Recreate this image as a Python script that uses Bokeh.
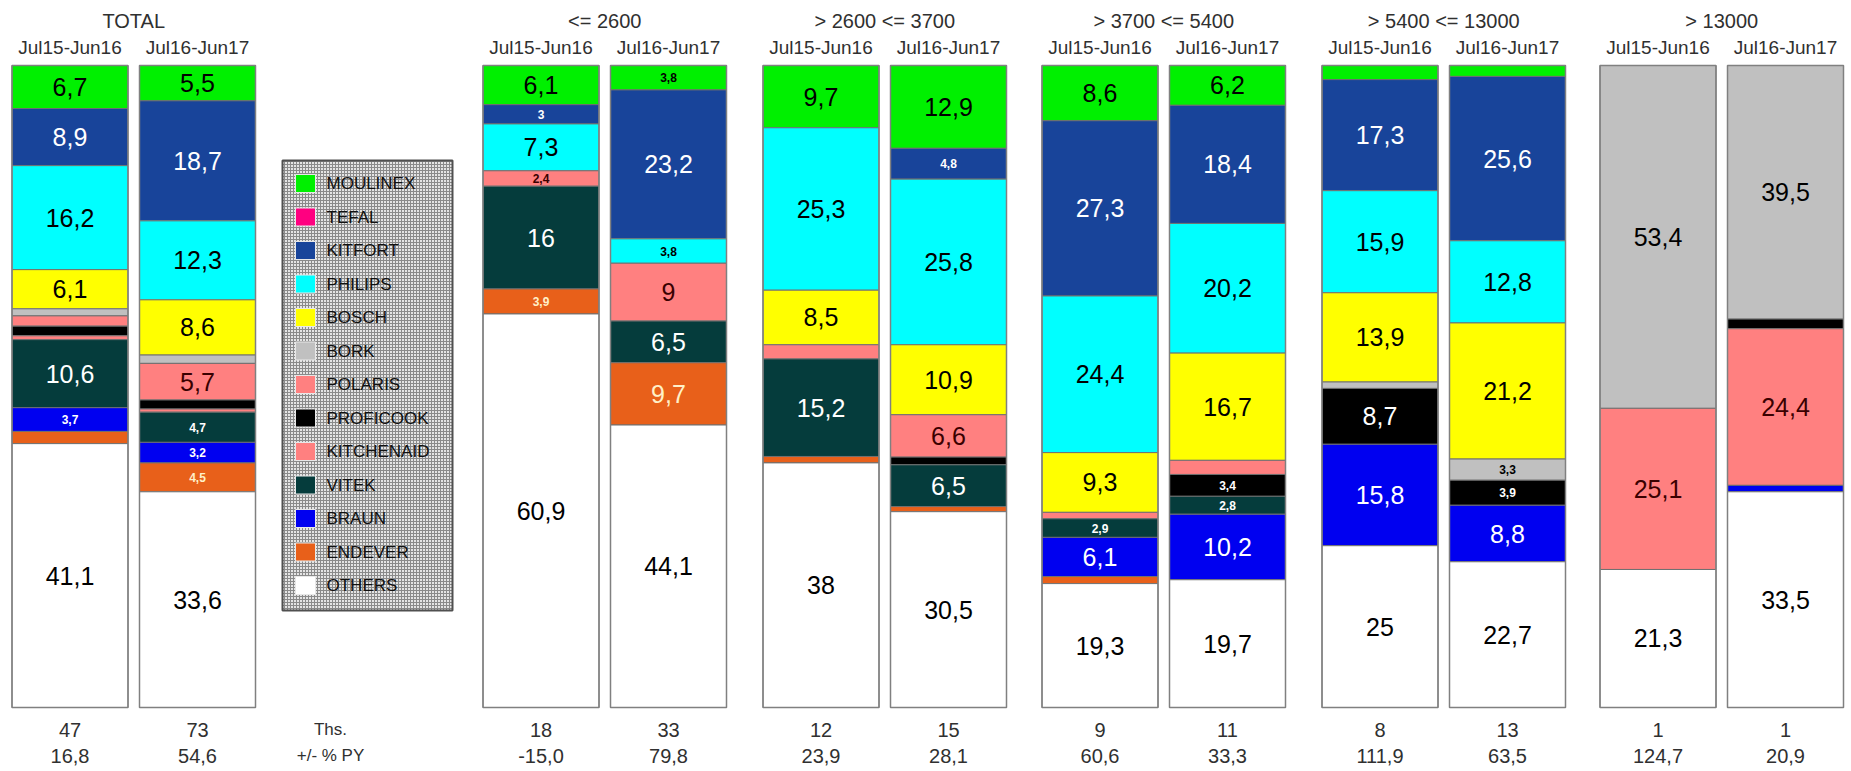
from bokeh.plotting import figure
from bokeh.models import Range1d, ColumnDataSource
from bokeh.core.properties import value
from bokeh.embed import file_html
from bokeh.resources import INLINE

# ---------------- data ----------------
groups = ["TOTAL", "<= 2600", "> 2600 <= 3700", "> 3700 <= 5400", "> 5400 <= 13000", "> 13000"]
periods = ["Jul15-Jun16", "Jul16-Jun17"]
brands = ["MOULINEX", "TEFAL", "KITFORT", "PHILIPS", "BOSCH", "BORK", "POLARIS",
          "PROFICOOK", "KITCHENAID", "VITEK", "BRAUN", "ENDEVER", "OTHERS"]
brand_colors = ["#00F000", "#FF0080", "#18449A", "#00FFFF", "#FFFF00", "#C0C0C0", "#FF8080",
                "#000000", "#FF8080", "#053C3C", "#0000F0", "#E8601A", "#FFFFFF"]
label_colors = ["#000000", "#FFFFFF", "#FFFFFF", "#000000", "#000000", "#000000", "#3A0000",
                "#FFFFFF", "#3A0000", "#FFFFFF", "#FFFFFF", "#FFF0C8", "#000000"]

# shares (%) for the 12 bars: 6 groups x 2 periods
moulinex   = [6.7, 5.5, 6.1, 3.8, 9.7, 12.9, 8.6, 6.2, 2.2, 1.7, 0, 0]
tefal      = [0, 0, 0, 0, 0, 0, 0, 0, 0, 0, 0, 0]
kitfort    = [8.9, 18.7, 3.0, 23.2, 0, 4.8, 27.3, 18.4, 17.3, 25.6, 0, 0]
philips    = [16.2, 12.3, 7.3, 3.8, 25.3, 25.8, 24.4, 20.2, 15.9, 12.8, 0, 0]
bosch      = [6.1, 8.6, 0, 0, 8.5, 10.9, 9.3, 16.7, 13.9, 21.2, 0, 0]
bork       = [1.1, 1.3, 0, 0, 0, 0, 0, 0, 1.0, 3.3, 53.4, 39.5]
polaris    = [1.6, 5.7, 2.4, 9.0, 2.2, 6.6, 1.0, 2.2, 0, 0, 0, 0]
proficook  = [1.5, 1.4, 0, 0, 0, 1.2, 0, 3.4, 8.7, 3.9, 0, 1.5]
kitchenaid = [0.6, 0.5, 0, 0, 0, 0, 0, 0, 0, 0, 25.1, 24.4]
vitek      = [10.6, 4.7, 16.0, 6.5, 15.2, 6.5, 2.9, 2.8, 0, 0, 0, 0]
braun      = [3.7, 3.2, 0, 0, 0, 0, 6.1, 10.2, 15.8, 8.8, 0, 1.0]
endever    = [1.9, 4.5, 3.9, 9.7, 1.0, 0.8, 1.1, 0, 0, 0, 0, 0]
others     = [41.1, 33.6, 60.9, 44.1, 38.0, 30.5, 19.3, 19.7, 25.0, 22.7, 21.3, 33.5]

ths = [47, 73, 18, 33, 12, 15, 9, 11, 8, 13, 1, 1]
py_change = [16.8, 54.6, -15.0, 79.8, 23.9, 28.1, 60.6, 33.3, 111.9, 63.5, 124.7, 20.9]

series = [moulinex, tefal, kitfort, philips, bosch, bork, polaris,
          proficook, kitchenaid, vitek, braun, endever, others]

# ---------------- layout (page pixels) ----------------
W, H = 1851, 768
PAGE_L, PAGE_T = 0, 0
BAR_TOP, BAR_BOT = 65, 707
PX_PER_PCT = (BAR_BOT - BAR_TOP) / 100.0
BAR_W = 116
group_x = [69.5, 540.5, 820.5, 1099.5, 1379.5, 1657.5]  # centre of first bar in group
BAR_STEP = 127.5

def fmt(v):
    if abs(v - round(v)) < 1e-9:
        return str(int(round(v)))
    return ("%.1f" % v).replace(".", ",")

p = figure(width=W, height=H, output_backend="svg", toolbar_location=None,
           x_range=Range1d(PAGE_L, PAGE_L + W),
           y_range=Range1d(-(PAGE_T + H - BAR_BOT) / PX_PER_PCT, (BAR_BOT - PAGE_T) / PX_PER_PCT),
           min_border=0)
p.extra_y_ranges = {"px": Range1d(start=PAGE_T + H, end=PAGE_T)}
p.xaxis.visible = False
p.yaxis.visible = False
p.grid.visible = False
p.outline_line_color = None
p.background_fill_color = "white"
p.border_fill_color = "white"

bar_x = []
for gx in group_x:
    bar_x += [gx, gx + BAR_STEP]

seg = dict(left=[], right=[], top=[], bottom=[], color=[])
big = dict(x=[], y=[], text=[], color=[])
small = dict(x=[], y=[], text=[], color=[])
for b in range(12):
    top = 100.0
    for k in range(len(brands)):
        v = series[k][b]
        if v <= 0:
            continue
        bot = max(top - v, 0.0)
        if k == len(brands) - 1:
            bot = 0.0
        seg["left"].append(bar_x[b] - BAR_W / 2)
        seg["right"].append(bar_x[b] + BAR_W / 2)
        seg["top"].append(top)
        seg["bottom"].append(bot)
        seg["color"].append(brand_colors[k])
        if v >= 2.35:
            d = big if v >= 5 else small
            d["x"].append(bar_x[b])
            d["y"].append((top + bot) / 2)
            d["text"].append(fmt(v))
            d["color"].append(label_colors[k])
        top = bot

p.quad(left="left", right="right", top="top", bottom="bottom", fill_color="color",
       line_color="#707070", line_width=1, source=ColumnDataSource(seg))
# bar frames
p.quad(left=[x - BAR_W / 2 for x in bar_x], right=[x + BAR_W / 2 for x in bar_x],
       top=[100] * 12, bottom=[0] * 12, fill_color=None, line_color="#808080", line_width=1.5)

p.text(x="x", y="y", text="text", text_color="color", source=ColumnDataSource(big),
       text_align="center", text_baseline="middle", text_font=value("Liberation Sans"),
       text_font_size=value("25px"))
p.text(x="x", y="y", text="text", text_color="color", source=ColumnDataSource(small),
       text_align="center", text_baseline="middle", text_font=value("Liberation Sans"),
       text_font_size=value("12px"), text_font_style="bold")

TXT = "#303030"
FONT = value("Liberation Sans")
# group titles and period labels
p.text(x=[gx + BAR_STEP / 2 for gx in group_x], y=[20] * 6, text=groups, y_range_name="px",
       text_align="center", text_baseline="middle", text_font=FONT,
       text_font_size=value("20px"), text_color=TXT)
p.text(x=bar_x, y=[47] * 12, text=periods * 6, y_range_name="px",
       text_align="center", text_baseline="middle", text_font=FONT,
       text_font_size=value("19px"), text_color=TXT)
# bottom rows
p.text(x=bar_x, y=[729] * 12, text=[str(t) for t in ths], y_range_name="px",
       text_align="center", text_baseline="middle", text_font=FONT,
       text_font_size=value("20px"), text_color=TXT)
p.text(x=bar_x, y=[755] * 12, text=[("%.1f" % v).replace(".", ",") for v in py_change],
       y_range_name="px", text_align="center", text_baseline="middle", text_font=FONT,
       text_font_size=value("20px"), text_color=TXT)
p.text(x=[330, 330], y=[729, 755], text=["Ths.", "+/- % PY"], y_range_name="px",
       text_align="center", text_baseline="middle", text_font=FONT,
       text_font_size=value("17px"), text_color=TXT)

# legend box
LG_L, LG_R, LG_T, LG_B = 282, 452, 160, 610
p.quad(left=[LG_L], right=[LG_R], top=[LG_T], bottom=[LG_B], y_range_name="px",
       fill_color="#E4E4E4", hatch_pattern="cross", hatch_color="#8A8A8A",
       hatch_scale=3, hatch_weight=1, line_color="#505050", line_width=2)
ly = [183 + i * 33.5 for i in range(len(brands))]
p.quad(left=[295] * 13, right=[315] * 13, top=[y - 9 for y in ly], bottom=[y + 9 for y in ly],
       y_range_name="px", fill_color=brand_colors, line_color="#E8E8E8", line_width=1)
p.text(x=[326] * 13, y=ly, text=brands, y_range_name="px", text_align="left",
       text_baseline="middle", text_font=FONT, text_font_size=value("17px"),
       text_color="#101010")

open("out.html", "w").write(file_html(p, INLINE))
